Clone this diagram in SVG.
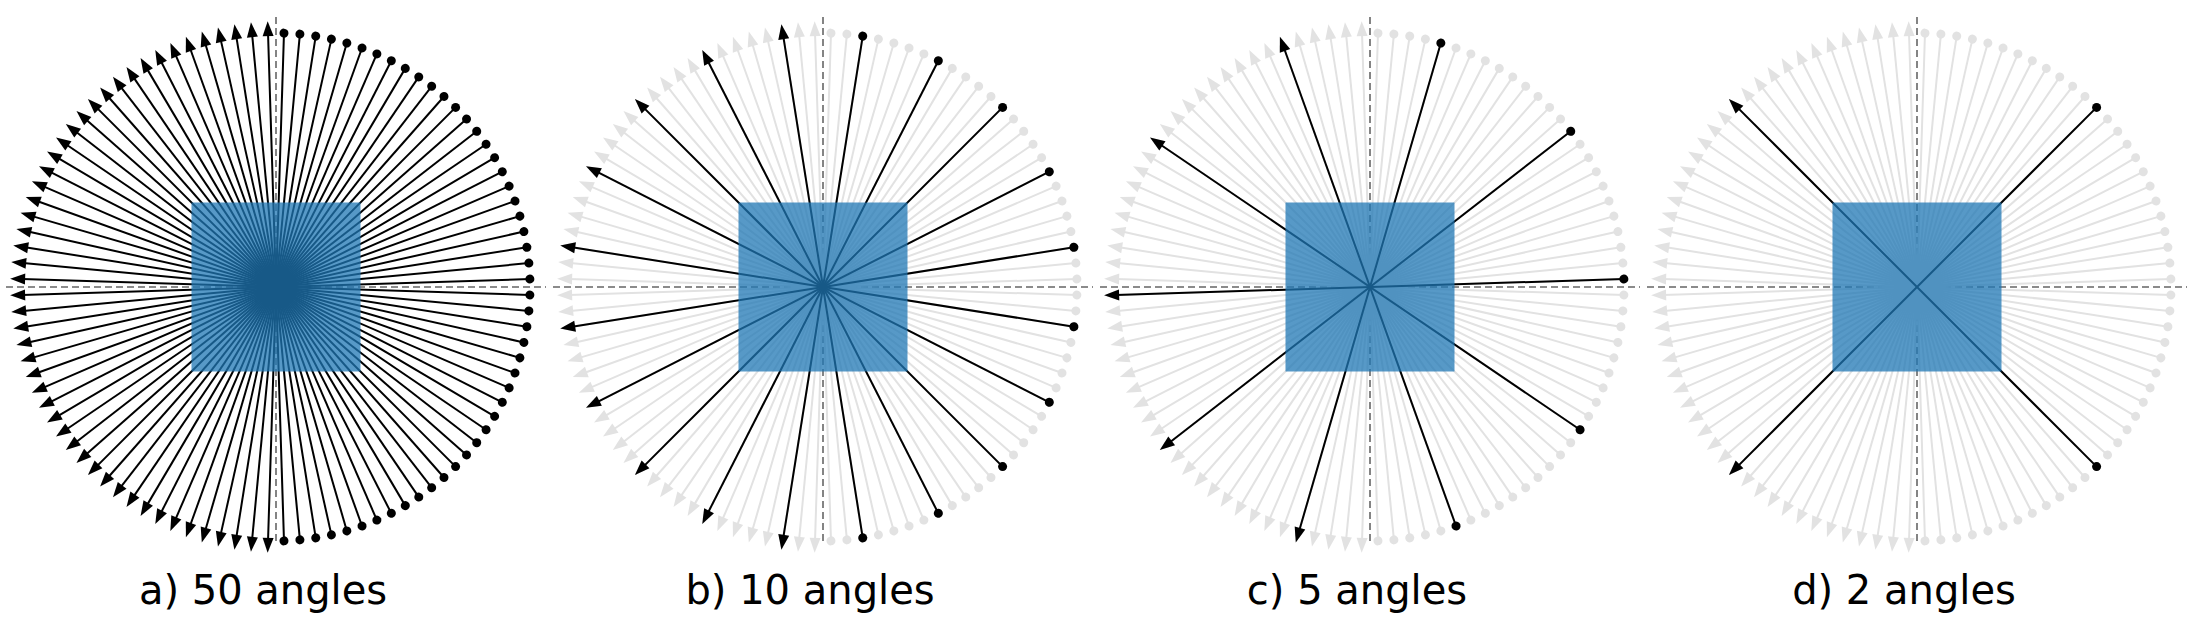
<svg xmlns="http://www.w3.org/2000/svg" xmlns:xlink="http://www.w3.org/1999/xlink" width="2200" height="621" viewBox="0 0 2200 621">
<style>
.ax{stroke:#666;stroke-width:1.6;stroke-dasharray:7,4;fill:none}
.box{fill:#1f77b4;fill-opacity:0.75}
.lbl{font-family:"DejaVu Sans",sans-serif;font-size:40px;fill:#000;text-anchor:middle}
.g{color:#e2e2e2}
.k{color:#000}
</style>
<defs>
<g id="r">
<line x1="0" y1="-254" x2="0" y2="254" stroke="currentColor" stroke-width="2"/>
<circle cx="0" cy="-254" r="4.5" fill="currentColor"/>
<polygon points="0,266 -5.5,251 5.5,251" fill="currentColor"/>
</g>
<g id="fan">
<use xlink:href="#r" transform="rotate(1.8)"/><use xlink:href="#r" transform="rotate(5.4)"/><use xlink:href="#r" transform="rotate(9)"/><use xlink:href="#r" transform="rotate(12.6)"/><use xlink:href="#r" transform="rotate(16.2)"/>
<use xlink:href="#r" transform="rotate(19.8)"/><use xlink:href="#r" transform="rotate(23.4)"/><use xlink:href="#r" transform="rotate(27)"/><use xlink:href="#r" transform="rotate(30.6)"/><use xlink:href="#r" transform="rotate(34.2)"/>
<use xlink:href="#r" transform="rotate(37.8)"/><use xlink:href="#r" transform="rotate(41.4)"/><use xlink:href="#r" transform="rotate(45)"/><use xlink:href="#r" transform="rotate(48.6)"/><use xlink:href="#r" transform="rotate(52.2)"/>
<use xlink:href="#r" transform="rotate(55.8)"/><use xlink:href="#r" transform="rotate(59.4)"/><use xlink:href="#r" transform="rotate(63)"/><use xlink:href="#r" transform="rotate(66.6)"/><use xlink:href="#r" transform="rotate(70.2)"/>
<use xlink:href="#r" transform="rotate(73.8)"/><use xlink:href="#r" transform="rotate(77.4)"/><use xlink:href="#r" transform="rotate(81)"/><use xlink:href="#r" transform="rotate(84.6)"/><use xlink:href="#r" transform="rotate(88.2)"/>
<use xlink:href="#r" transform="rotate(91.8)"/><use xlink:href="#r" transform="rotate(95.4)"/><use xlink:href="#r" transform="rotate(99)"/><use xlink:href="#r" transform="rotate(102.6)"/><use xlink:href="#r" transform="rotate(106.2)"/>
<use xlink:href="#r" transform="rotate(109.8)"/><use xlink:href="#r" transform="rotate(113.4)"/><use xlink:href="#r" transform="rotate(117)"/><use xlink:href="#r" transform="rotate(120.6)"/><use xlink:href="#r" transform="rotate(124.2)"/>
<use xlink:href="#r" transform="rotate(127.8)"/><use xlink:href="#r" transform="rotate(131.4)"/><use xlink:href="#r" transform="rotate(135)"/><use xlink:href="#r" transform="rotate(138.6)"/><use xlink:href="#r" transform="rotate(142.2)"/>
<use xlink:href="#r" transform="rotate(145.8)"/><use xlink:href="#r" transform="rotate(149.4)"/><use xlink:href="#r" transform="rotate(153)"/><use xlink:href="#r" transform="rotate(156.6)"/><use xlink:href="#r" transform="rotate(160.2)"/>
<use xlink:href="#r" transform="rotate(163.8)"/><use xlink:href="#r" transform="rotate(167.4)"/><use xlink:href="#r" transform="rotate(171)"/><use xlink:href="#r" transform="rotate(174.6)"/><use xlink:href="#r" transform="rotate(178.2)"/>
</g>
</defs>

<g id="panel-a" transform="translate(276,287)">
<line class="ax" x1="-270" y1="0" x2="270" y2="0"/><line class="ax" x1="0" y1="-270" x2="0" y2="257"/>
<g id="connectors-a" class="k"><use xlink:href="#fan"/></g>
<rect class="box" x="-84.5" y="-84.5" width="169" height="169"/>
<text class="lbl" x="-13" y="317">a) 50 angles</text>
</g>

<g id="panel-b" transform="translate(823,287)">
<line class="ax" x1="-270" y1="0" x2="270" y2="0"/><line class="ax" x1="0" y1="-270" x2="0" y2="257"/>
<g id="connectors-b">
<use xlink:href="#fan" class="g"/>
<g class="k">
<use xlink:href="#r" transform="rotate(9)"/><use xlink:href="#r" transform="rotate(27)"/><use xlink:href="#r" transform="rotate(45)"/><use xlink:href="#r" transform="rotate(63)"/><use xlink:href="#r" transform="rotate(81)"/>
<use xlink:href="#r" transform="rotate(99)"/><use xlink:href="#r" transform="rotate(117)"/><use xlink:href="#r" transform="rotate(135)"/><use xlink:href="#r" transform="rotate(153)"/><use xlink:href="#r" transform="rotate(171)"/>
</g></g>
<rect class="box" x="-84.5" y="-84.5" width="169" height="169"/>
<text class="lbl" x="-13" y="317">b) 10 angles</text>
</g>

<g id="panel-c" transform="translate(1370,287)">
<line class="ax" x1="-270" y1="0" x2="270" y2="0"/><line class="ax" x1="0" y1="-270" x2="0" y2="257"/>
<g id="connectors-c">
<use xlink:href="#fan" class="g"/>
<g class="k">
<use xlink:href="#r" transform="rotate(16.2)"/><use xlink:href="#r" transform="rotate(52.2)"/><use xlink:href="#r" transform="rotate(88.2)"/><use xlink:href="#r" transform="rotate(124.2)"/><use xlink:href="#r" transform="rotate(160.2)"/>
</g></g>
<rect class="box" x="-84.5" y="-84.5" width="169" height="169"/>
<text class="lbl" x="-13" y="317">c) 5 angles</text>
</g>

<g id="panel-d" transform="translate(1917,287)">
<line class="ax" x1="-270" y1="0" x2="270" y2="0"/><line class="ax" x1="0" y1="-270" x2="0" y2="257"/>
<g id="connectors-d">
<use xlink:href="#fan" class="g"/>
<g class="k">
<use xlink:href="#r" transform="rotate(45)"/><use xlink:href="#r" transform="rotate(135)"/>
</g></g>
<rect class="box" x="-84.5" y="-84.5" width="169" height="169"/>
<text class="lbl" x="-13" y="317">d) 2 angles</text>
</g>
</svg>
